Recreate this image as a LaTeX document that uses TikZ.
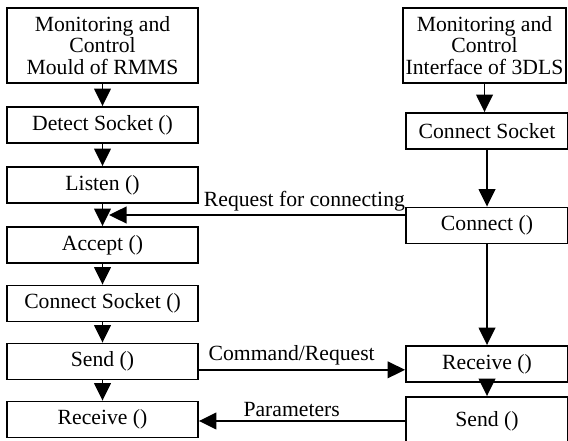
\documentclass[tikz,border=0pt]{standalone}
\usepackage{fontspec}
\setmainfont{Liberation Serif}
\usepackage{tikz}
\usetikzlibrary{arrows.meta,positioning,calc}

\begin{document}
\begin{tikzpicture}[x=0.6pt, y=-0.6pt,
    box/.style={draw, line width=1.1pt, minimum width=114.6pt, minimum height=21.6pt, inner sep=0pt, align=center, font=\fontsize{13}{12.8}\selectfont},
    rbox/.style={box, minimum width=97.2pt},
    arr/.style={line width=1.1pt, -{Triangle[length=10.5pt, width=10pt]}},
    lbl/.style={font=\fontsize{13}{12.8}\selectfont, inner sep=2pt}]
    \clip (0,0) rectangle (568,441);
    % RMMS side
    \node[box, minimum height=45pt] (mcL) at (102.5,45.5) {Monitoring and\\Control\\Mould of RMMS};
    \node[box] (detL) at (102.5,125) {Detect Socket ()};
    \node[box] (lisL) at (102.5,185) {Listen ()};
    \node[box] (accL) at (102.5,245) {Accept ()};
    \node[box] (csL) at (102.5,303.5) {Connect Socket ()};
    \node[box] (sendL) at (102.5,361.5) {Send ()};
    \node[box] (recvL) at (102.5,419.5) {Receive ()};
    % 3DLS side
    \node[rbox, minimum height=45pt, minimum width=97.8pt] (mcR) at (484.5,45.5) {Monitoring and\\Control\\Interface of 3DLS};
    \node[rbox] (csR) at (487,131) {Connect Socket};
    \node[rbox] (conR) at (487,225.5) {Connect ()};
    \node[rbox] (recvR) at (487,364) {Receive ()};
    \node[rbox, minimum height=28.8pt] (sendR) at (487,421) {Send ()};

    \draw[arr] (mcL) -- (detL);
    \draw[arr] (detL) -- (lisL);
    \draw[arr] (lisL) -- (accL);
    \draw[arr] (accL) -- (csL);
    \draw[arr] (csL) -- (sendL);
    \draw[arr] (sendL) -- (recvL);

    \draw[arr] (mcR.south) -- (mcR.south |- csR.north);
    \draw[arr] (csR) -- (conR);
    \draw[arr] (conR) -- (recvR);
    \draw[arr] (recvR) -- (sendR);

    \coordinate (meet) at (109,215);
    \coordinate (cmd) at ([yshift=-5pt]sendL.east);
    \draw[arr] (conR.west |- meet) -- node[lbl, above, pos=0.34] {Request for connecting} (meet);
    \draw[arr] (cmd) -- node[lbl, above, pos=0.45] {Command/Request} (cmd -| recvR.west);
    \draw[arr] (sendR.west) -- node[lbl, above, pos=0.55] {Parameters} (sendR.west -| recvL.east);
\end{tikzpicture}
\end{document}
